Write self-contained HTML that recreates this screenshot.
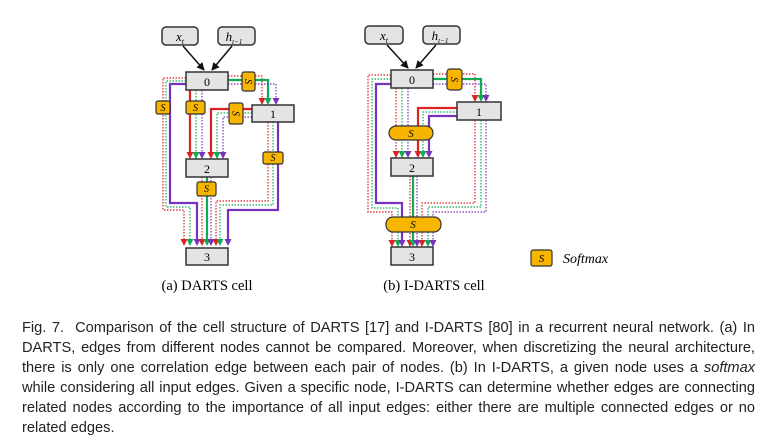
<!DOCTYPE html>
<html><head><meta charset="utf-8"><style>
body{margin:0;background:#fff;width:768px;height:448px;overflow:hidden;position:relative;font-family:"Liberation Sans",sans-serif}
.cap{position:absolute;left:22px;width:733px;font-size:14.6px;line-height:20px;color:#222}
.cap div{text-align:justify;text-align-last:justify;height:20px;white-space:nowrap}
.cap div.l{text-align-last:left}
</style></head><body>
<svg width="768" height="300" style="position:absolute;left:0;top:0" font-family="Liberation Serif, serif">
<defs>
<marker id="ar" markerWidth="7" markerHeight="7" refX="5" refY="3.5" orient="auto" markerUnits="userSpaceOnUse"><path d="M0,0 L7,3.5 L0,7z" fill="#d22"/></marker>
<marker id="ag" markerWidth="7" markerHeight="7" refX="5" refY="3.5" orient="auto" markerUnits="userSpaceOnUse"><path d="M0,0 L7,3.5 L0,7z" fill="#1a5"/></marker>
<marker id="ap" markerWidth="7" markerHeight="7" refX="5" refY="3.5" orient="auto" markerUnits="userSpaceOnUse"><path d="M0,0 L7,3.5 L0,7z" fill="#73b"/></marker>
<marker id="ab" markerWidth="8" markerHeight="8" refX="7" refY="4" orient="auto" markerUnits="userSpaceOnUse"><path d="M0,0 L8,4 L0,8z" fill="#111"/></marker>
</defs>
<style>
.d{fill:none;stroke-width:1.2;stroke-dasharray:1.5 1.5}
.s{fill:none;stroke-width:2.2}
.r{stroke:#d22}.g{stroke:#1a5}.p{stroke:#73b}
.n{fill:#e4e4e4;stroke:#333;stroke-width:1.5}
.sx{fill:#f7b500;stroke:#333;stroke-width:1.2}
</style>
<!-- ===== DARTS ===== -->
<g>
<rect class="n" x="162" y="27" width="36" height="18" rx="4"/><text x="180" y="41" font-size="13" font-style="italic" text-anchor="middle">x<tspan font-size="8" dy="3">t</tspan></text>
<rect class="n" x="218" y="27" width="37" height="18" rx="4"/><text x="234" y="41" font-size="13" font-style="italic" text-anchor="middle">h<tspan font-size="7" dy="3">t−1</tspan></text>
<line x1="183" y1="46" x2="204" y2="70" stroke="#111" stroke-width="1.5" marker-end="url(#ab)"/>
<line x1="232" y1="46" x2="212" y2="70" stroke="#111" stroke-width="1.5" marker-end="url(#ab)"/>
<path class="d r" d="M186,78 H163 V210 H184 V244" marker-end="url(#ar)"/>
<path class="d g" d="M186,81 H166 V207 H190 V244" marker-end="url(#ag)"/>
<path class="s p" d="M186,84 H170 V203 H197 V244" marker-end="url(#ap)"/>
<path class="s r" d="M190,90 V157" marker-end="url(#ar)"/>
<path class="d g" d="M196,90 V157" marker-end="url(#ag)"/>
<path class="d p" d="M202,90 V157" marker-end="url(#ap)"/>
<path class="d r" d="M228,76 H262 V103" marker-end="url(#ar)"/>
<path class="s g" d="M228,80 H268 V103" marker-end="url(#ag)"/>
<path class="d p" d="M228,84 H276 V103" marker-end="url(#ap)"/>
<path class="s r" d="M252,109 H211 V157" marker-end="url(#ar)"/>
<path class="d g" d="M252,113 H217 V157" marker-end="url(#ag)"/>
<path class="d p" d="M252,117 H223 V157" marker-end="url(#ap)"/>
<path class="d r" d="M268,122 V201 H216 V244" marker-end="url(#ar)"/>
<path class="d g" d="M273,122 V205 H220 V244" marker-end="url(#ag)"/>
<path class="s p" d="M278,122 V210 H228 V244" marker-end="url(#ap)"/>
<path class="d r" d="M202,177 V244" marker-end="url(#ar)"/>
<path class="s g" d="M207,177 V244" marker-end="url(#ag)"/>
<path class="d p" d="M211,177 V244" marker-end="url(#ap)"/>
<rect class="n" x="186" y="72" width="42" height="18"/><text x="207" y="86" font-size="12" text-anchor="middle">0</text>
<rect class="n" x="252" y="105" width="42" height="17"/><text x="273" y="118" font-size="12" text-anchor="middle">1</text>
<rect class="n" x="186" y="159" width="42" height="18"/><text x="207" y="173" font-size="12" text-anchor="middle">2</text>
<rect class="n" x="186" y="248" width="42" height="17"/><text x="207" y="261" font-size="12" text-anchor="middle">3</text>
<rect class="sx" x="242" y="72" width="13" height="19" rx="2"/><text x="248.5" y="85" font-size="10" font-style="italic" text-anchor="middle" transform="rotate(90 248.5 81.5)">S</text>
<rect class="sx" x="156" y="101" width="14" height="13" rx="2"/><text x="163" y="111" font-size="10" font-style="italic" text-anchor="middle">S</text>
<rect class="sx" x="186" y="101" width="19" height="13" rx="2"/><text x="195.5" y="111" font-size="10" font-style="italic" text-anchor="middle">S</text>
<rect class="sx" x="229" y="103" width="14" height="21" rx="2"/><text x="236" y="117" font-size="10" font-style="italic" text-anchor="middle" transform="rotate(90 236 113.5)">S</text>
<rect class="sx" x="263" y="152" width="20" height="12" rx="2"/><text x="273" y="161" font-size="10" font-style="italic" text-anchor="middle">S</text>
<rect class="sx" x="197" y="182" width="19" height="14" rx="2"/><text x="206.5" y="192" font-size="10" font-style="italic" text-anchor="middle">S</text>
</g>
<!-- ===== I-DARTS ===== -->
<g>
<rect class="n" x="365" y="26" width="38" height="18" rx="4"/><text x="384" y="40" font-size="13" font-style="italic" text-anchor="middle">x<tspan font-size="8" dy="3">t</tspan></text>
<rect class="n" x="423" y="26" width="37" height="18" rx="4"/><text x="440" y="40" font-size="13" font-style="italic" text-anchor="middle">h<tspan font-size="7" dy="3">t−1</tspan></text>
<line x1="387" y1="45" x2="408" y2="68" stroke="#111" stroke-width="1.5" marker-end="url(#ab)"/>
<line x1="436" y1="45" x2="416" y2="68" stroke="#111" stroke-width="1.5" marker-end="url(#ab)"/>
<path class="d r" d="M391,75 H368 V212 H392 V245" marker-end="url(#ar)"/>
<path class="d g" d="M391,79 H372 V208 H398 V245" marker-end="url(#ag)"/>
<path class="s p" d="M391,84 H376 V203 H402 V245" marker-end="url(#ap)"/>
<path class="d r" d="M396,88 V156" marker-end="url(#ar)"/>
<path class="d g" d="M402,88 V156" marker-end="url(#ag)"/>
<path class="d p" d="M408,88 V156" marker-end="url(#ap)"/>
<path class="d r" d="M433,74 H475 V100" marker-end="url(#ar)"/>
<path class="s g" d="M433,79 H481 V100" marker-end="url(#ag)"/>
<path class="d p" d="M433,84 H486 V100" marker-end="url(#ap)"/>
<path class="s r" d="M457,108 H418 V156" marker-end="url(#ar)"/>
<path class="d g" d="M457,112 H423 V156" marker-end="url(#ag)"/>
<path class="s p" d="M457,116 H429 V156" marker-end="url(#ap)"/>
<path class="d r" d="M475,120 V203 H422 V245" marker-end="url(#ar)"/>
<path class="d g" d="M481,120 V207 H428 V245" marker-end="url(#ag)"/>
<path class="d p" d="M486,120 V212 H433 V245" marker-end="url(#ap)"/>
<path class="d r" d="M410,176 V245" marker-end="url(#ar)"/>
<path class="s g" d="M413,176 V245" marker-end="url(#ag)"/>
<path class="d p" d="M417,176 V245" marker-end="url(#ap)"/>
<rect class="n" x="391" y="70" width="42" height="18"/><text x="412" y="84" font-size="12" text-anchor="middle">0</text>
<rect class="n" x="457" y="102" width="44" height="18"/><text x="479" y="116" font-size="12" text-anchor="middle">1</text>
<rect class="n" x="391" y="158" width="42" height="18"/><text x="412" y="172" font-size="12" text-anchor="middle">2</text>
<rect class="n" x="391" y="247" width="42" height="18"/><text x="412" y="261" font-size="12" text-anchor="middle">3</text>
<rect class="sx" x="447" y="69" width="15" height="21" rx="3"/><text x="454.5" y="83" font-size="10" font-style="italic" text-anchor="middle" transform="rotate(90 454.5 79.5)">S</text>
<rect class="sx" x="389" y="126" width="44" height="14" rx="7"/><text x="411" y="137" font-size="11" font-style="italic" text-anchor="middle">S</text>
<rect class="sx" x="386" y="217" width="55" height="15" rx="7"/><text x="413" y="228" font-size="11" font-style="italic" text-anchor="middle">S</text>
</g>
<rect class="sx" x="531" y="250" width="21" height="16" rx="2"/><text x="541.5" y="262" font-size="11" font-style="italic" text-anchor="middle">S</text>
<text x="563" y="263" font-size="14" font-style="italic">Softmax</text>
<text x="207" y="290" font-size="14.5" text-anchor="middle">(a) DARTS cell</text>
<text x="434" y="290" font-size="14.5" text-anchor="middle">(b) I-DARTS cell</text>
</svg>
<div class="cap" style="top:318px">
<div>Fig. 7.&nbsp; Comparison of the cell structure of DARTS [17] and I-DARTS [80] in a recurrent neural network. (a) In</div>
<div>DARTS, edges from different nodes cannot be compared. Moreover, when discretizing the neural architecture,</div>
<div>there is only one correlation edge between each pair of nodes. (b) In I-DARTS, a given node uses a <i>softmax</i></div>
<div>while considering all input edges. Given a specific node, I-DARTS can determine whether edges are connecting</div>
<div>related nodes according to the importance of all input edges: either there are multiple connected edges or no</div>
<div class="l">related edges.</div>
</div>
</body></html>
